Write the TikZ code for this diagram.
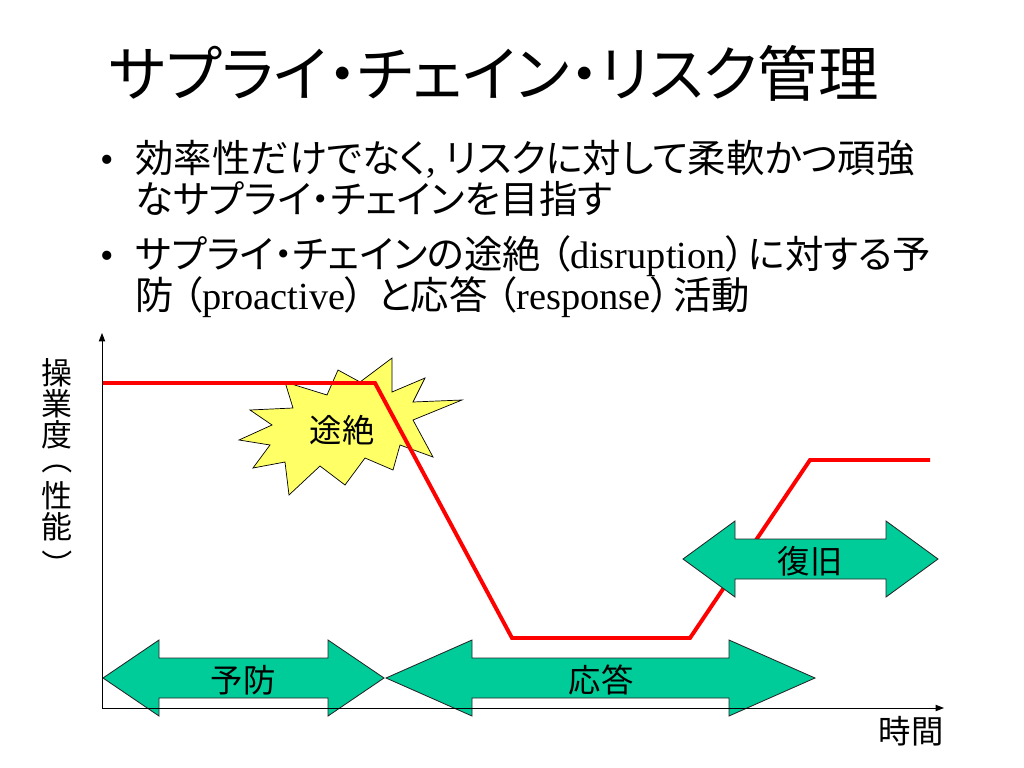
\documentclass[tikz,border=0pt]{standalone}
\usepackage{fontspec}
\setmainfont{Liberation Serif}
\newfontfamily\jfont[RawFeature=+palt]{Noto Sans CJK JP}
\usetikzlibrary{arrows.meta}
\definecolor{burstyellow}{HTML}{FFFF66}
\definecolor{phasegreen}{HTML}{00CC99}
\tikzset{
  phasearrow/.style={fill=phasegreen, draw=black!85, line width=0.6pt},
  phaselabel/.style={inner sep=0pt, font=\jfont\fontsize{23}{27}\selectfont},
  bodyline/.style={anchor=base west, inner sep=0pt, font=\fontsize{27.3}{32}\selectfont},
  axisline/.style={line width=0.7pt, -{Triangle[length=6pt,width=4.5pt]}},
}
% double arrow: left tip, right tip, centre y, head length
\def\dblarrow(#1:#2:#3:#4){\draw[phasearrow] (#1,#3) -- (#1+#4,#3-38) -- (#1+#4,#3-20) -- (#2-#4,#3-20) -- (#2-#4,#3-38) -- (#2,#3) -- (#2-#4,#3+38) -- (#2-#4,#3+20) -- (#1+#4,#3+20) -- (#1+#4,#3+38) -- cycle;}
% japanese brackets in a latin line
\def\lp{\kern0.25em{\jfont （}}
\def\rp{{\jfont ）}\kern0.08em}
\def\vp#1{\rotatebox[origin=c]{-90}{#1}}

\begin{document}
\begin{tikzpicture}[x=0.025cm, y=-0.025cm]
			%%%%% START %%%%%
			\useasboundingbox (0,0) rectangle (1024,768);

			\node[inner sep=0pt, font=\jfont\fontsize{43}{48}\selectfont] (title) at (494,73) {サプライ・チェイン・リスク管理};

			\node[bodyline] (dot1) at (100,173) {\textbullet};
			\node[bodyline] (line1) at (135,173) {{\jfont 効率性だけでなく}, {\jfont リスクに対して柔軟かつ頑強}};
			\node[bodyline] (line2) at (135,213) {{\jfont なサプライ・チェインを目指す}};
			\node[bodyline] (dot2) at (100,268) {\textbullet};
			\node[bodyline] (line3) at (135,268) {{\jfont サプライ・チェインの途絶}\lp disruption\rp{\jfont に対する予}};
			\node[bodyline] (line4) at (135,309) {{\jfont 防}\lp proactive\rp\ {\jfont と応答}\lp response\rp{\jfont 活動}};

			% disruption burst
			\draw[fill=burstyellow, draw=black, line width=0.5pt] (285,382) -- (327,395) -- (338,370) -- (360,382) -- (392,358) -- (392,392) -- (425,378) -- (413,402) -- (462,400) -- (413,420) -- (433,457) -- (400,445) -- (393,470) -- (365,458) -- (345,485) -- (320,466) -- (289,495) -- (285,462) -- (253,468) -- (270,445) -- (239,440) -- (272,425) -- (250,410) -- (293,408) -- cycle;
			\node[phaselabel] (tozetsu) at (342,430) {途絶};

			% performance curve
			\draw[line width=2.8pt, color=red] (102,383) -- (375,383) -- (512,638) -- (690,638) -- (810,460) -- (930,460);

			\dblarrow(103:384:678:56)
			\dblarrow(386:815:678:86)
			\dblarrow(683:938:559:52)
			\node[phaselabel] (yobou) at (243,680) {予防};
			\node[phaselabel] (outou) at (601,680) {応答};
			\node[phaselabel] (fukkyuu) at (810,561) {復旧};

			% axes
			\coordinate (origin) at (102,708);
			\coordinate (ytop) at (102,333);
			\coordinate (xend) at (944,708);
			\draw[axisline] (origin) -- (ytop);
			\draw[axisline] (origin) -- (xend);
			\node[inner sep=0pt, align=center, font=\jfont\fontsize{22}{22}\selectfont] (ylabel) at (57,464) {操\\業\\度\\\vp{（}\\性\\能\\\vp{）}};
			\node[phaselabel] (jikan) at (911,731) {時間};

			%%%%% END %%%%%
\end{tikzpicture}
\end{document}
